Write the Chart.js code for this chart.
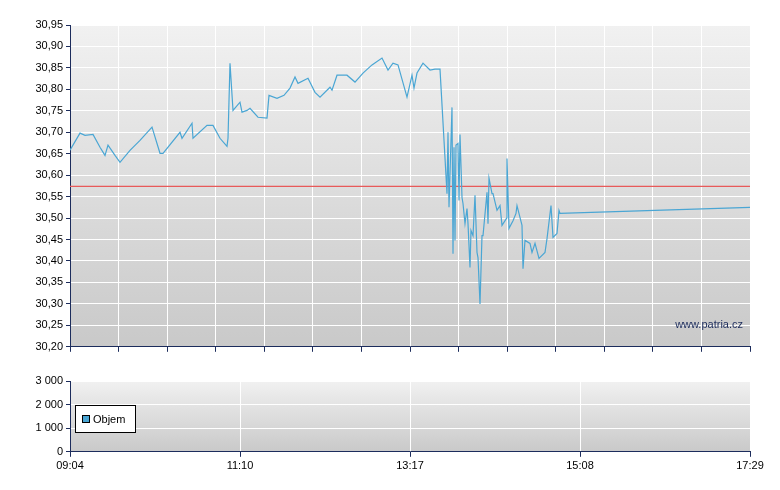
<!DOCTYPE html>
<html><head><meta charset="utf-8">
<script src="https://cdn.jsdelivr.net/npm/chart.js@4"></script>
<style>body{margin:0;background:#fff;width:780px;height:490px;overflow:hidden;font-family:Arial,"Liberation Sans",sans-serif}</style></head><body>
<div style="position:absolute;left:0;top:0;width:780px;height:371px"><canvas id="c1"></canvas></div>
<div style="position:absolute;left:0;top:371px;width:780px;height:119px"><canvas id="c2"></canvas></div>
<script>
const timeLabels=['09:04','11:10','13:17','15:08','17:29'];
const xs=[0,10,15,23,30,35,38,45,50,60,70,82,90,93,110,112,122,123,137,143,150,157,158,160,163,170,172,177,180,188,197,199,207,214,220,225,228,238,245,250,260,262,267,277,285,293,302,312,318,323,328,337,342,344,347,353,360,365,370,377,378,379,382,383,384,385,386,388,389,390,392,393,395,397,398,400,401,403,405,407,408,410,412,413,417,418,419,422,423,427,430,432,437,437,439,443,446,447,452,453,455,460,462,465,469,475,477,481,483,487,489,490,680];
const ys=[30.658,30.698,30.693,30.695,30.665,30.646,30.670,30.646,30.630,30.658,30.681,30.712,30.651,30.651,30.700,30.686,30.721,30.686,30.716,30.716,30.686,30.667,30.686,30.861,30.751,30.770,30.747,30.751,30.756,30.735,30.733,30.786,30.779,30.786,30.803,30.829,30.814,30.826,30.793,30.782,30.805,30.798,30.833,30.833,30.817,30.838,30.857,30.873,30.845,30.861,30.857,30.782,30.833,30.803,30.838,30.861,30.845,30.847,30.847,30.557,30.700,30.525,30.758,30.417,30.665,30.448,30.670,30.674,30.541,30.695,30.548,30.534,30.487,30.522,30.487,30.385,30.471,30.459,30.553,30.420,30.408,30.300,30.459,30.459,30.560,30.487,30.593,30.557,30.557,30.518,30.529,30.483,30.501,30.639,30.476,30.494,30.511,30.529,30.483,30.382,30.448,30.441,30.420,30.441,30.406,30.420,30.452,30.529,30.455,30.464,30.518,30.511,30.525];
const refPrice=30.574;
const volY=[];
const pts=xs.map((x,i)=>({x,y:ys[i]}));
const axisCol='#1c2c5c';
const bg={id:'bg',beforeDraw(c){const a=c.chartArea,x=c.ctx;const g=x.createLinearGradient(0,a.top,0,a.bottom);g.addColorStop(0,'#f1f1f1');g.addColorStop(1,'#c9c9c9');x.save();x.fillStyle=g;x.fillRect(a.left,a.top,a.right-a.left,a.bottom-a.top);x.restore();}};
const mark={id:'mark',afterDraw(c){const a=c.chartArea,x=c.ctx;x.save();x.font='11px Arial, "Liberation Sans"';x.fillStyle='#1c2c5c';x.textAlign='right';x.fillText('www.patria.cz',a.right-7,a.bottom-19);x.restore();}};
const leg={id:'leg',afterDraw(c){const a=c.chartArea,x=c.ctx;x.save();x.fillStyle='#fff';x.fillRect(a.left+5.5,a.top+24.5,60,27);x.strokeStyle='#000';x.lineWidth=1;x.strokeRect(a.left+5.5,a.top+24.5,60,27);x.fillStyle='#4aa6d4';x.fillRect(a.left+12.5,a.top+34.5,7,7);x.strokeRect(a.left+12.5,a.top+34.5,7,7);x.font='11px Arial, "Liberation Sans"';x.fillStyle='#000';x.textBaseline='middle';x.fillText('Objem',a.left+23,a.top+38.5);x.restore();}};
const font={family:'Arial, "Liberation Sans"',size:11};
function gridTicks(n){return s=>{s.ticks=[];for(let i=0;i<=n;i++)s.ticks.push({value:680*i/n});};}
new Chart(document.getElementById('c1'),{type:'line',
data:{datasets:[{data:pts,borderColor:'#4aa6d4',borderWidth:1.2,pointRadius:0,tension:0},
{data:[{x:0,y:refPrice},{x:680,y:refPrice}],borderColor:'#e85a5a',borderWidth:1.2,pointRadius:0}]},
options:{animation:false,responsive:true,maintainAspectRatio:false,
layout:{padding:{top:25,right:30,left:0,bottom:0}},
plugins:{legend:{display:false},tooltip:{enabled:false}},
scales:{x:{type:'linear',min:0,max:680,afterBuildTicks:gridTicks(14),
ticks:{callback:()=>'',font},grid:{color:'#fff',lineWidth:1,tickLength:5,tickColor:axisCol},border:{color:axisCol}},
y:{min:30.2,max:30.95,afterBuildTicks:s=>{s.ticks=[];for(let i=0;i<=15;i++)s.ticks.push({value:30.2+i*0.05});},
afterFit:s=>{s.width=70;},
ticks:{font,color:'#000',callback:v=>v.toFixed(2).replace('.',',')},grid:{color:'#fff',tickLength:4,tickColor:axisCol},border:{color:axisCol}}}},
plugins:[bg,mark]});
new Chart(document.getElementById('c2'),{type:'line',
data:{datasets:[{data:volY,borderColor:'#4aa6d4'}]},
options:{animation:false,responsive:true,maintainAspectRatio:false,
layout:{padding:{top:10,right:30,left:0,bottom:14}},
plugins:{legend:{display:false},tooltip:{enabled:false}},
scales:{x:{type:'linear',min:0,max:680,afterBuildTicks:gridTicks(4),
ticks:{font,color:'#000',maxRotation:0,callback:(v,i)=>timeLabels[i]},grid:{color:'#fff',tickLength:5,tickColor:axisCol},border:{color:axisCol}},
y:{min:0,max:3000,afterBuildTicks:s=>{s.ticks=[0,1000,2000,3000].map(v=>({value:v}));},afterFit:s=>{s.width=70;},
ticks:{font,color:'#000',callback:v=>v===0?'0':(v/1000)+' 000'},grid:{color:'#fff',tickLength:4,tickColor:axisCol},border:{color:axisCol}}}},
plugins:[bg,leg]});
</script></body></html>
